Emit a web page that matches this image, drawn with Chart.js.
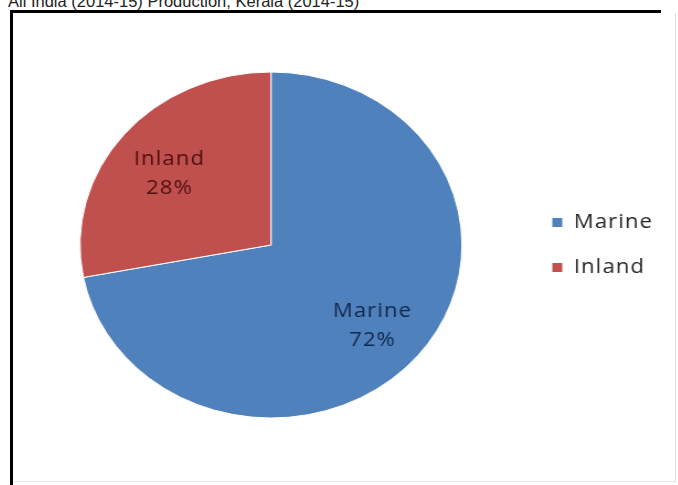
<!DOCTYPE html>
<html>
<head>
<meta charset="utf-8">
<script src="https://cdn.jsdelivr.net/npm/chart.js@4"></script>
<style>
    body { margin: 0; background: #fff; width: 678px; height: 485px; overflow: hidden; position: relative; }
    #caption { position: absolute; left: 8px; top: -7px; font: 16.5px "Liberation Sans", Arial, sans-serif; line-height: 16.5px; color: #222; white-space: nowrap; }
    #frame { position: absolute; left: 10px; top: 10px; width: 648px; height: 480px; border-top: 3px solid #000; border-left: 3px solid #000; }
    #edge { position: absolute; left: 14px; top: 13px; width: 661px; height: 468px; border-right: 1px solid #ddd; border-bottom: 1px solid #e6e6e6; }
    #pie { position: absolute; left: 13px; top: 13px; transform: scaleX(1.104); transform-origin: 0 0; }
</style>
</head>
<body>
<div id="caption">All India (2014-15) Production, Kerala (2014-15)</div>
<div id="frame"></div>
<div id="edge"></div>
<canvas id="pie" width="600" height="472"></canvas>
<script>
    // fish production share by sector
    var sectors = ['Marine', 'Inland'];
    var shares = [72, 28];
    var sliceColors = ['#4f81bd', '#c0504d'];
    var labelColors = ['#10294d', '#4d0f0f'];

    var fontFamily = '"Open Sans", "DejaVu Sans", sans-serif';
    var fontSize = 20;
    var spacing = '1px';
    var legendPad = 25;
    var boxSize = 10;
    var legendLeft = 463;
    var pieCenterX = 233.7;

    var canvas = document.getElementById('pie');

    // canvas resizes wipe the context state, so put the spacing back each pass
    var textSpacing = {
        id: 'textSpacing',
        beforeUpdate: function(chart) { chart.ctx.letterSpacing = spacing; },
        beforeDraw: function(chart) { chart.ctx.letterSpacing = spacing; }
    };

    // slice names and percentages inside each wedge
    var sliceLabels = {
        id: 'sliceLabels',
        afterDatasetsDraw: function(chart) {
            var c = chart.ctx;
            var meta = chart.getDatasetMeta(0);
            c.save();
            c.font = fontSize + 'px ' + fontFamily;
            c.textAlign = 'center';
            c.textBaseline = 'middle';
            meta.data.forEach(function(arc, i) {
                var p = arc.getProps(['x', 'y', 'startAngle', 'endAngle', 'outerRadius'], true);
                var mid = (p.startAngle + p.endAngle) / 2;
                var x = p.x + Math.cos(mid) * p.outerRadius * 0.69;
                var y = p.y + Math.sin(mid) * p.outerRadius * 0.69 + 5;
                c.fillStyle = labelColors[i];
                c.fillText(sectors[i], x, y - 14.5);
                c.fillText(shares[i] + '%', x, y + 14.5);
            });
            c.restore();
        }
    };

    var chart = new Chart(canvas, {
        type: 'pie',
        data: {
            labels: sectors,
            datasets: [{
                data: shares,
                backgroundColor: sliceColors,
                borderColor: '#ffffff',
                borderWidth: 1,
                radius: 173
            }]
        },
        options: {
            responsive: false,
            animation: false,
            devicePixelRatio: 1,
            layout: {
                padding: { top: 59, bottom: 67, left: pieCenterX * 2 - legendLeft, right: 20 }
            },
            plugins: {
                legend: {
                    position: 'right',
                    labels: {
                        boxWidth: boxSize,
                        boxHeight: boxSize,
                        padding: legendPad,
                        color: '#262626',
                        font: { family: fontFamily, size: fontSize }
                    }
                },
                tooltip: { enabled: false }
            }
        },
        plugins: [textSpacing, sliceLabels]
    });

    // now the legend width is known, pin the legend's left edge
    chart.options.layout.padding = {
        top: 59, bottom: 67,
        left: pieCenterX * 2 - legendLeft,
        right: canvas.width - legendLeft - chart.legend.width
    };
    chart.update();
</script>
</body>
</html>
